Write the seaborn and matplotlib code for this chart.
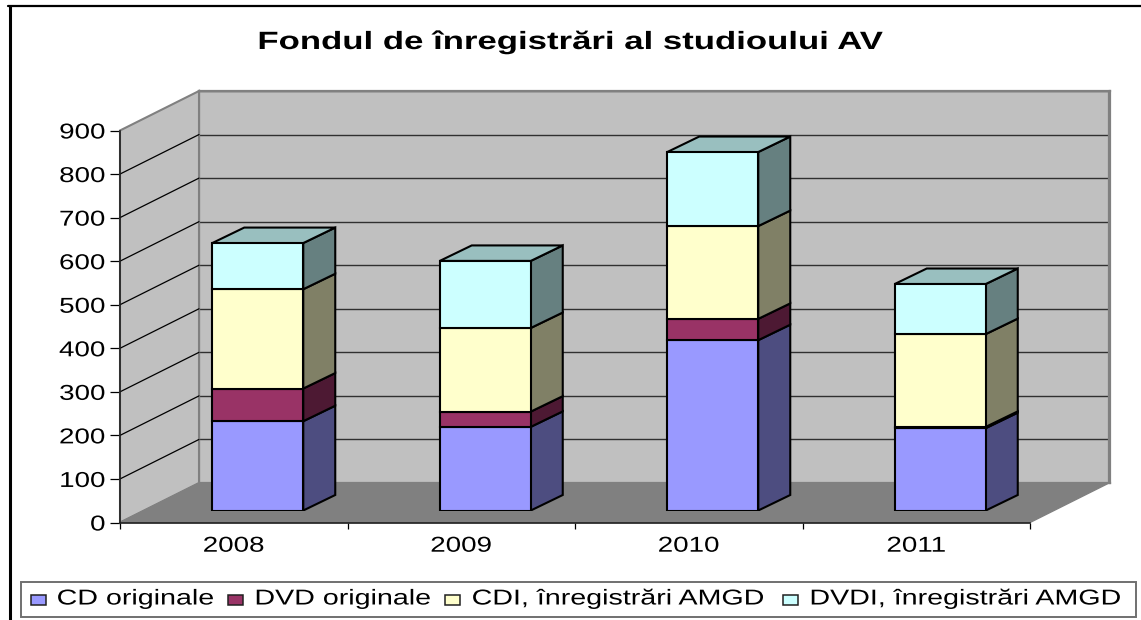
import matplotlib
matplotlib.use('Agg')
import matplotlib.pyplot as plt
import matplotlib.patheffects as pe
import seaborn as sns
from matplotlib.lines import Line2D
from matplotlib.patches import Polygon, Rectangle
from matplotlib.transforms import Affine2D

# Chart data
years = ['2008', '2009', '2010', '2011']
cd_originale = [205, 192, 391, 189]
dvd_originale = [75, 35, 49, 3]
cdi_amgd = [228, 192, 213, 213]
dvdi_amgd = [106, 154, 170, 115]
series_names = ['CD originale', 'DVD originale', 'CDI, înregistrări AMGD', 'DVDI, înregistrări AMGD']
y_ticks = [0, 100, 200, 300, 400, 500, 600, 700, 800, 900]

# Colours: front face, side face, top face
front_colors = ['#9999FF', '#993366', '#FFFFCC', '#CCFFFF']
side_colors = ['#4D4D80', '#4D1933', '#808066', '#668080']
top_colors = ['#7373BF', '#73264D', '#BFBF99', '#99BFBF']

W, H = 1141, 620


# The reference text is stretched sideways, this keeps it real text
class StretchX(pe.AbstractPathEffect):
    def __init__(self, sx, pivot=0.5):
        super().__init__()
        self.sx = sx
        self.pivot = pivot

    def draw_path(self, renderer, gc, tpath, affine, rgbFace=None):
        ext = tpath.get_extents()
        px = ext.x0 + self.pivot * ext.width
        stretch = Affine2D().translate(-px, 0).scale(self.sx, 1).translate(px, 0)
        renderer.draw_path(gc, tpath, stretch + affine, rgbFace)


sns.set_theme(style='white')
plt.rcParams['font.family'] = ['Liberation Sans', 'DejaVu Sans']

fig = plt.figure(figsize=(W / 100, H / 100), dpi=100, facecolor='white')


def axes_px(left, top, right, bottom, z):
    a = fig.add_axes([left / W, 1 - bottom / H, (right - left) / W, (bottom - top) / H], zorder=z)
    a.set_ylim(0, 900)
    a.patch.set_alpha(0)
    return a


# Outer frame, only top and left are in the picture
fig.add_artist(Line2D([9.5 / W, 9.5 / W], [0, 1 - 6 / H], color='black', lw=2.2))
fig.add_artist(Line2D([8 / W, 1], [1 - 6 / H, 1 - 6 / H], color='black', lw=1.6))

fig.text(570.5 / W, 1 - 49 / H, 'Fondul de înregistrări al studioului AV', ha='center', va='baseline',
         fontsize=18, fontweight='bold', color='black', path_effects=[StretchX(1.39)])

# Back wall
ax_wall = axes_px(199, 91, 1110, 483, 1)
ax_wall.patch.set_alpha(1)
ax_wall.set_facecolor('#C0C0C0')
ax_wall.set_xticks([])
ax_wall.set_yticks(y_ticks)
ax_wall.tick_params(left=False, labelleft=False)
ax_wall.grid(axis='y', color='#303030', lw=1)
ax_wall.set_axisbelow(True)
for s in ax_wall.spines.values():
    s.set_color('#808080')
    s.set_linewidth(1.6)

# Front axis plane
ax_front = axes_px(120, 130.5, 1030, 522.5, 2)
ax_front.set_xlim(-0.5, 3.5)
dx = 79 / (910 / 4)
dy = 39.5 / (392 / 900)

ax_front.add_patch(Polygon([(-0.5, 0), (-0.5 + dx, dy), (-0.5 + dx, 900 + dy), (-0.5, 900)], closed=True,
                           facecolor='#C0C0C0', edgecolor='#808080', lw=1.5, clip_on=False))
ax_front.add_patch(Polygon([(-0.5, 0), (3.5, 0), (3.5 + dx, dy), (-0.5 + dx, dy)], closed=True,
                           facecolor='#808080', edgecolor='#808080', lw=1, clip_on=False))
ax_front.plot([3.5 + dx, 3.5 + dx], [dy, 900 + dy], color='#808080', lw=1.6, clip_on=False)
for v in y_ticks[1:-1]:
    ax_front.plot([-0.5, -0.5 + dx], [v, v + dy], color='black', lw=0.9, clip_on=False)

ax_front.set_xticks(range(4))
ax_front.set_xticklabels(years)
ax_front.set_xticks([-0.5, 0.5, 1.5, 2.5, 3.5], minor=True)
ax_front.set_yticks(y_ticks)
ax_front.tick_params(axis='x', which='major', bottom=False, labelsize=15.5, pad=3.5, labelcolor='black')
ax_front.tick_params(axis='x', which='minor', bottom=True, length=4.3, width=0.9, color='black')
ax_front.tick_params(axis='y', left=True, length=7, width=0.9, color='black', labelsize=15.5, pad=3.5, labelcolor='black')
for lab in ax_front.get_xticklabels():
    lab.set_path_effects([StretchX(1.29)])
for lab in ax_front.get_yticklabels():
    lab.set_path_effects([StretchX(1.29, pivot=1)])
ax_front.spines['top'].set_visible(False)
ax_front.spines['right'].set_visible(False)
for name in ['left', 'bottom']:
    ax_front.spines[name].set_color('#202020')
    ax_front.spines[name].set_linewidth(1.2)

# Bars sit a little way into the floor
ax_bars = axes_px(144, 118.5, 1054, 510.5, 3)
ax_bars.axis('off')
bar_dx = 32 / (910 / 4)
bar_dy = 15.5 / (392 / 900)

stack = [cd_originale, dvd_originale, cdi_amgd, dvdi_amgd]
bottoms = [0, 0, 0, 0]
for i, values in enumerate(stack):
    n_before = len(ax_bars.patches)
    sns.barplot(x=years, y=values, bottom=bottoms, ax=ax_bars, color=front_colors[i], saturation=1,
                width=0.4, errorbar=None, edgecolor='black', linewidth=1.5, zorder=5)
    for bar in ax_bars.patches[n_before:]:
        x0 = bar.get_x()
        x1 = x0 + bar.get_width()
        y0 = bar.get_y()
        y1 = y0 + bar.get_height()
        ax_bars.add_patch(Polygon([(x1, y0), (x1 + bar_dx, y0 + bar_dy), (x1 + bar_dx, y1 + bar_dy), (x1, y1)],
                                  closed=True, facecolor=side_colors[i], edgecolor='black', lw=1.5, zorder=4))
        if i == len(stack) - 1:
            ax_bars.add_patch(Polygon([(x0, y1), (x1, y1), (x1 + bar_dx, y1 + bar_dy), (x0 + bar_dx, y1 + bar_dy)],
                                      closed=True, facecolor=top_colors[i], edgecolor='black', lw=1.5, zorder=4))
    bottoms = [b + v for b, v in zip(bottoms, values)]
ax_bars.set_xlim(-0.5, 3.5)
ax_bars.set_ylim(0, 900)
ax_bars.axis('off')

# Legend box along the bottom, placed by hand since the text is stretched
fig.add_artist(Rectangle((20.5 / W, 1 - 617 / H), 1115.5 / W, 35 / H, transform=fig.transFigure,
                         facecolor='white', edgecolor='#707070', lw=1.4))
swatch_x = [31, 228, 445, 783]
label_x = [57, 255, 472, 810]
for i, name in enumerate(series_names):
    fig.add_artist(Rectangle((swatch_x[i] / W, 1 - 605 / H), 15 / W, 10 / H, transform=fig.transFigure,
                             facecolor=front_colors[i], edgecolor='#202020', lw=1.1))
    fig.text(label_x[i] / W, 1 - 604.5 / H, name, ha='left', va='baseline', fontsize=15.5, color='black',
             path_effects=[StretchX(1.33, pivot=0)])

plt.savefig('out.png', dpi=100)
